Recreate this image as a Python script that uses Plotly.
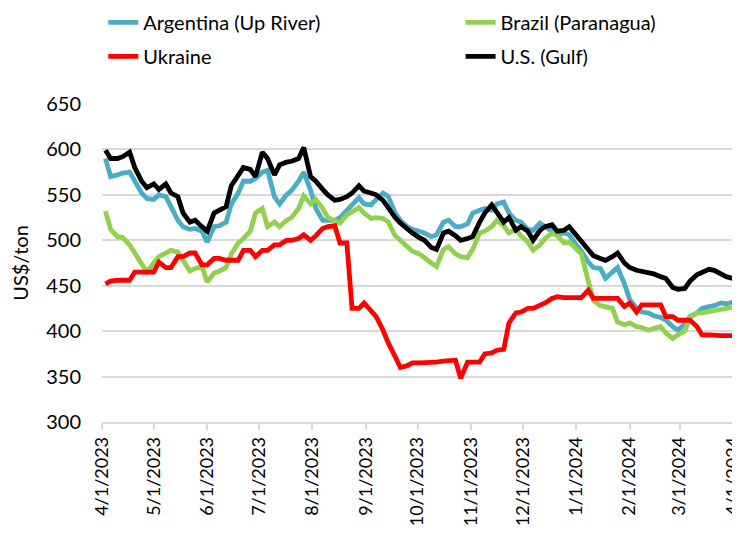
import pandas as pd
import plotly.graph_objects as go

# Sample dates: Mondays and Thursdays, 4/3/2023 .. 4/4/2024
mondays = pd.date_range("2023-04-03", "2024-04-04", freq="W-MON")
thursdays = pd.date_range("2023-04-03", "2024-04-04", freq="W-THU")
dates = sorted(list(mondays) + list(thursdays))

argentina = [590, 570, 572, 574, 575, 565, 552, 546, 545, 550, 548, 537, 522, 515, 512, 513,
             510, 498, 515, 516, 520, 540, 552, 565, 565, 568, 575, 577, 548, 540, 550, 555,
             565, 575, 555, 535, 522, 522, 522, 525, 533, 540, 547, 540, 539, 545, 552, 548,
             530, 522, 515, 512, 510, 508, 504, 506, 520, 522, 515, 515, 518, 530, 533, 535,
             533, 540, 542, 530, 522, 520, 512, 511, 519, 515, 510, 506, 508, 506, 495, 488,
             476, 470, 469, 458, 465, 470, 452, 435, 425, 421, 420, 417, 415, 412, 405, 401,
             408, 416, 420, 425, 427, 428, 431, 430, 432, 433]

brazil = [532, 512, 504, 503, 495, 486, 472, 465, 475, 482, 486, 489, 487, 478, 466, 469,
          471, 454, 464, 466, 470, 485, 497, 502, 510, 530, 535, 515, 520, 515, 522, 525,
          535, 549, 540, 545, 535, 525, 522, 519, 528, 532, 536, 530, 524, 525, 524, 520,
          505, 500, 493, 488, 485, 480, 475, 471, 490, 493, 485, 482, 481, 490, 508, 510,
          515, 522, 516, 508, 512, 505, 498, 489, 495, 502, 508, 505, 497, 498, 490, 485,
          455, 434, 428, 427, 425, 410, 407, 409, 405, 404, 401, 403, 405, 398, 392, 396,
          400, 415, 420, 420, 421, 423, 424, 425, 426, 427]

ukraine = [452, 455, 456, 456, 456, 465, 465, 465, 465, 476, 470, 470, 482, 482, 486, 486,
           473, 473, 480, 480, 478, 478, 478, 489, 489, 482, 489, 489, 495, 495, 500, 500,
           502, 506, 500, 505, 513, 515, 516, 497, 497, 425, 425, 431, 422, 416, 401, 387,
           372, 360, 362, 365, 365, 365, 366, 366, 367, 368, 368, 348, 366, 366, 366, 375,
           376, 379, 380, 409, 420, 421, 425, 425, 428, 431, 436, 438, 437, 437, 437, 437,
           445, 436, 436, 436, 436, 436, 427, 431, 421, 429, 429, 429, 429, 416, 416, 412,
           412, 412, 405, 396, 396, 395, 395, 395, 395, 386]

us_gulf = [599, 590, 590, 592, 597, 580, 565, 558, 562, 556, 562, 552, 548, 530, 520, 522,
           515, 510, 530, 533, 537, 560, 572, 580, 578, 570, 597, 590, 572, 583, 586, 587,
           590, 602, 570, 565, 556, 550, 544, 545, 548, 552, 560, 554, 552, 550, 544, 535,
           525, 519, 512, 508, 503, 500, 492, 490, 508, 510, 505, 500, 502, 504, 520, 530,
           539, 530, 520, 525, 511, 515, 510, 500, 511, 515, 517, 510, 511, 515, 506, 500,
           489, 483, 480, 478, 482, 486, 475, 470, 467, 466, 465, 463, 460, 458, 448, 446,
           447, 455, 462, 465, 468, 467, 463, 460, 458, 455]

tick_dates = ["2023-04-01", "2023-05-01", "2023-06-01", "2023-07-01", "2023-08-01",
              "2023-09-01", "2023-10-01", "2023-11-01", "2023-12-01", "2024-01-01",
              "2024-02-01", "2024-03-01", "2024-04-01"]
tick_labels = ["4/1/2023", "5/1/2023", "6/1/2023", "7/1/2023", "8/1/2023", "9/1/2023",
               "10/1/2023", "11/1/2023", "12/1/2023", "1/1/2024", "2/1/2024", "3/1/2024",
               "4/1/2024"]

# (name, values, colour, legend column)
series = [
    ("Argentina (Up River)", argentina, "#4bacc6", "legend"),
    ("Brazil (Paranagua)", brazil, "#92d050", "legend2"),
    ("Ukraine", ukraine, "#ff0000", "legend"),
    ("U.S. (Gulf)", us_gulf, "#000000", "legend2"),
]

fig = go.Figure()
for name, vals, color, leg in series:
    fig.add_trace(go.Scatter(x=dates, y=vals, name=name, mode="lines", legend=leg,
                             legendgroup=name,
                             line=dict(color=color, width=4.8)))

FONT = "Lato, 'Open Sans', sans-serif"
legend_common = dict(orientation="v", yanchor="top", y=1.318, xanchor="left",
                     font=dict(family=FONT, size=20), traceorder="grouped",
                     bgcolor="rgba(0,0,0,0)", tracegroupgap=5)
fig.update_layout(
    width=732, height=529,
    margin=dict(l=94, r=0, t=96, b=115, autoexpand=False),
    paper_bgcolor="white", plot_bgcolor="white",
    font=dict(family=FONT, size=20, color="#000000"),
    showlegend=True,
    legend=dict(x=0.002, **legend_common),
    legend2=dict(x=0.562, **legend_common),
    xaxis=dict(type="date", range=["2023-04-01", "2024-04-05"], automargin=False,
               tickvals=tick_dates, ticktext=tick_labels, tickangle=-90,
               ticklabeloverflow="allow",
               showgrid=False, showline=True, linecolor="#d9d9d9", linewidth=1.5,
               ticks="outside", ticklen=6, tickcolor="#d9d9d9", tickwidth=1.5,
               tickfont=dict(family=FONT, size=18)),
    yaxis=dict(range=[300, 650], dtick=50, showgrid=True, gridcolor="#d9d9d9",
               gridwidth=1.5, zeroline=False, showline=False, automargin=False,
               ticks="outside", ticklen=16, tickcolor="rgba(0,0,0,0)",
               tickfont=dict(family=FONT, size=20),
               title=dict(text="US$/ton", font=dict(family=FONT, size=20), standoff=14)),
)

fig.write_html("out.html")
